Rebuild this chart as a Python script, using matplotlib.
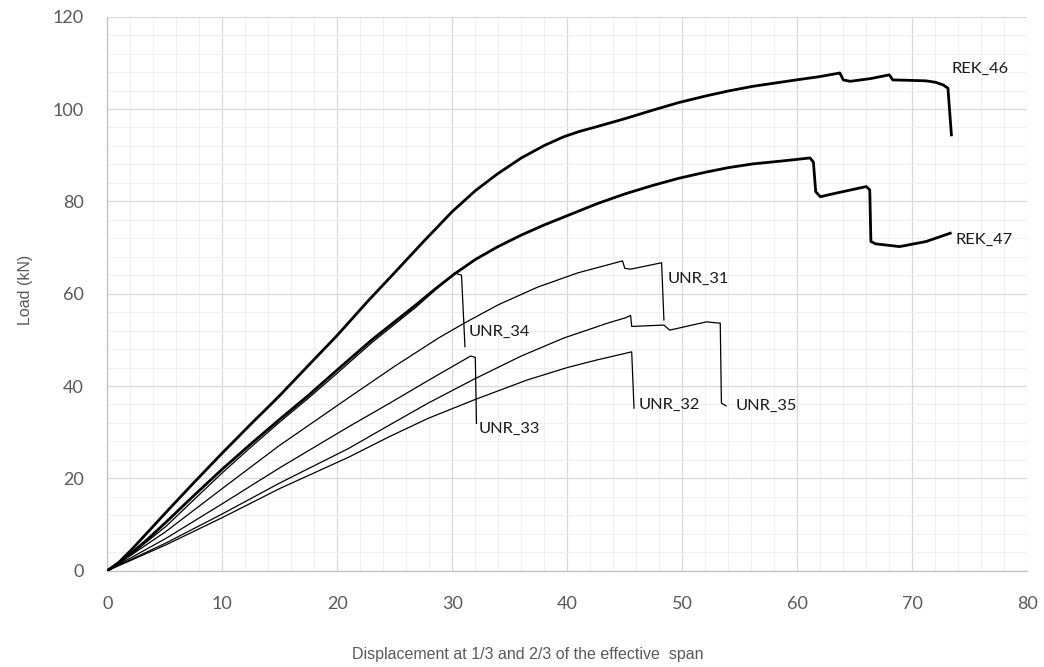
import matplotlib.pyplot as plt
from matplotlib.ticker import MultipleLocator

# ----- curve data (displacement, load) -----
rek46_x = [0, 1.0, 2.2, 3.5, 5.2, 7.5, 10.0, 12.5, 14.9, 17.5, 20.0, 22.7, 25.0, 27.5, 30.0,
           32.0, 33.9, 36.0, 38.0, 39.7, 41.0, 42.6, 45.0, 47.5, 49.7, 52.0, 54.0, 56.1,
           58.0, 59.9, 61.9, 63.7, 64.0, 64.6, 66.4, 68.0, 68.3, 69.9, 71.2, 72.0, 72.7,
           73.1, 73.4]
rek46_y = [0, 1.8, 4.8, 8.3, 12.9, 19.0, 25.5, 31.8, 37.7, 44.5, 51.0, 58.5, 64.6, 71.3, 77.8,
           82.3, 85.9, 89.4, 92.1, 94.0, 95.1, 96.2, 97.9, 99.8, 101.4, 102.8, 103.9, 104.9,
           105.6, 106.3, 107.0, 107.8, 106.3, 106.0, 106.6, 107.4, 106.3, 106.2, 106.1, 105.8,
           105.2, 104.5, 94.4]

rek47_x = [0, 1.0, 2.2, 3.5, 5.1, 7.5, 10.0, 12.5, 14.9, 17.5, 20.0, 23.0, 26.8, 28.5, 30.2,
           32.0, 33.9, 36.0, 38.0, 39.7, 42.6, 45.0, 47.5, 49.7, 52.0, 54.0, 56.1, 58.9,
           61.1, 61.4, 61.6, 62.0, 63.4, 66.0, 66.3, 66.4, 66.8, 68.9, 71.2, 73.3]
rek47_y = [0, 1.6, 4.0, 6.8, 10.5, 16.2, 22.0, 27.5, 32.6, 38.0, 43.5, 50.0, 57.5, 61.0, 64.3,
           67.4, 70.1, 72.7, 74.9, 76.6, 79.5, 81.6, 83.5, 85.0, 86.3, 87.3, 88.1, 88.8,
           89.4, 88.5, 82.1, 81.0, 81.8, 83.2, 82.5, 71.3, 70.8, 70.2, 71.3, 73.1]

unr34_x = [0, 2.2, 5.1, 7.5, 10.0, 12.5, 14.9, 17.5, 20.0, 23.0, 26.8, 30.2, 30.8, 31.1]
unr34_y = [0, 3.8, 9.6, 15.3, 21.2, 26.8, 32.0, 37.4, 42.8, 49.4, 57.0, 64.5, 64.0, 48.5]

unr31_x = [0, 2.2, 5.1, 10.0, 14.9, 21.0, 25.0, 28.8, 31.1, 34.0, 37.4, 40.9, 43.9, 44.8,
           45.0, 45.5, 48.2, 48.4]
unr31_y = [0, 3.6, 8.5, 17.8, 27.0, 37.5, 44.3, 50.4, 53.7, 57.6, 61.4, 64.5, 66.5, 67.1,
           65.5, 65.3, 66.7, 54.3]

unr33_x = [0, 2.2, 5.1, 10.0, 15.0, 21.0, 24.5, 27.9, 31.6, 32.0, 32.1]
unr33_y = [0, 3.0, 7.0, 14.5, 22.3, 31.2, 36.2, 41.2, 46.5, 46.2, 31.9]

unr35_x = [0, 2.2, 5.1, 10.0, 15.0, 21.0, 24.5, 27.9, 31.9, 36.0, 39.7, 43.6, 45.1, 45.5,
           45.6, 48.4, 48.9, 52.1, 53.3, 53.4, 53.8]
unr35_y = [0, 2.6, 6.0, 12.3, 19.0, 26.5, 31.5, 36.3, 41.5, 46.5, 50.4, 53.7, 54.8, 55.3,
           52.9, 53.2, 52.1, 53.9, 53.6, 36.3, 35.7]

unr32_x = [0, 2.2, 5.1, 10.0, 15.0, 21.0, 24.5, 27.9, 31.9, 36.5, 40.0, 42.5, 45.6, 45.8]
unr32_y = [0, 2.4, 5.6, 11.5, 17.8, 24.6, 29.0, 33.0, 37.0, 41.3, 44.0, 45.6, 47.4, 35.2]

labels = ["REK_46", "REK_47", "UNR_34", "UNR_31", "UNR_33", "UNR_32", "UNR_35"]

x_ticks = [0, 10, 20, 30, 40, 50, 60, 70, 80]
y_ticks = [0, 20, 40, 60, 80, 100, 120]

# ----- figure -----
fig = plt.figure(figsize=(10.44, 6.67), dpi=100)
ax = fig.add_axes([0.1028, 0.1444, 0.8812, 0.8306])

thick = dict(color="black", lw=2.0, solid_joinstyle="round", zorder=4)
thin = dict(color="black", lw=0.9, zorder=3)

ax.plot(rek46_x, rek46_y, **thick)
ax.plot(rek47_x, rek47_y, **thick)
ax.plot(unr34_x, unr34_y, **thin)
ax.plot(unr31_x, unr31_y, **thin)
ax.plot(unr33_x, unr33_y, **thin)
ax.plot(unr35_x, unr35_y, **thin)
ax.plot(unr32_x, unr32_y, **thin)

# curve labels
lab_font = dict(fontsize=11.8, color="#1a1a1a", family=["Lato", "DejaVu Sans"], va="center", ha="left")
ax.text(73.4, 108.6, labels[0], **lab_font)
ax.text(73.8, 71.6, labels[1], **lab_font)
ax.text(31.4, 51.8, labels[2], **lab_font)
ax.text(48.7, 63.3, labels[3], **lab_font)
ax.text(32.3, 30.7, labels[4], **lab_font)
ax.text(46.2, 36.0, labels[5], **lab_font)
ax.text(54.6, 35.6, labels[6], **lab_font)

# axes, grid
ax.set_xlim(0, 80)
ax.set_ylim(0, 120)
ax.set_xticks(x_ticks)
ax.set_yticks(y_ticks)
ax.xaxis.set_minor_locator(MultipleLocator(2))
ax.yaxis.set_minor_locator(MultipleLocator(4))
ax.grid(which="major", color="#d9d9d9", lw=0.9)
ax.grid(which="minor", color="#eeeeee", lw=0.6)
ax.set_axisbelow(True)

for side in ["top", "right"]:
    ax.spines[side].set_visible(False)
for side in ["left", "bottom"]:
    ax.spines[side].set_color("#bfbfbf")
    ax.spines[side].set_linewidth(0.9)

ax.tick_params(which="both", length=0)
ax.tick_params(axis="x", pad=18, labelsize=13, labelcolor="#595959")
ax.tick_params(axis="y", pad=17, labelsize=13, labelcolor="#595959")
for t in ax.get_xticklabels() + ax.get_yticklabels():
    t.set_family(["Lato", "DejaVu Sans"])

ax.set_xlabel("Displacement at 1/3 and 2/3 of the effective  span", fontsize=11.5,
              color="#595959", family=["Liberation Sans Narrow", "Liberation Sans"])
ax.xaxis.set_label_coords(0.4567, -0.138)
ax.set_ylabel("Load (kN)", fontsize=11.5, color="#595959",
              family=["Liberation Sans Narrow", "Liberation Sans"])
ax.yaxis.set_label_coords(-0.081, 0.507)

fig.savefig("out.png", dpi=100)
